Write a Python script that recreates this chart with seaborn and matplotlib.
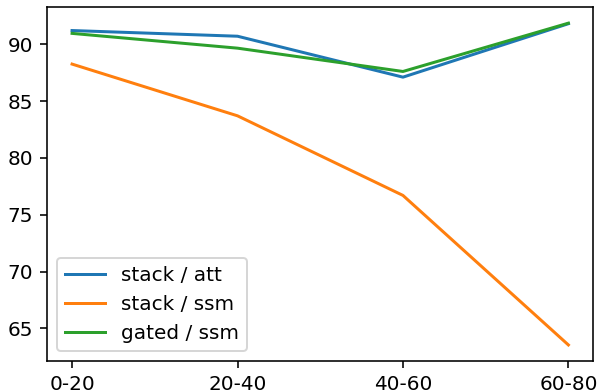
import matplotlib
matplotlib.use("Agg")
import matplotlib.pyplot as plt
import pandas as pd
import seaborn as sns

# length buckets and accuracy per model variant
buckets = ["0-20", "20-40", "40-60", "60-80"]
stack_att = [91.2, 90.7, 87.1, 91.8]
stack_ssm = [88.25, 83.7, 76.7, 63.55]
gated_ssm = [90.95, 89.65, 87.6, 91.85]
labels = ["stack / att", "stack / ssm", "gated / ssm"]

df = pd.DataFrame({
    "bucket": buckets * 3,
    "acc": stack_att + stack_ssm + gated_ssm,
    "model": [labels[0]] * 4 + [labels[1]] * 4 + [labels[2]] * 4,
})

dpi = 144
fig, ax = plt.subplots(figsize=(598 / dpi, 392 / dpi), dpi=dpi)
sns.lineplot(data=df, x="bucket", y="acc", hue="model", palette=["#1f77b4", "#ff7f0e", "#2ca02c"],
             linewidth=1.5, ax=ax, sort=False)
ax.set_xlabel("")
ax.set_ylabel("")
ax.legend(loc="lower left", title=None)
plt.subplots_adjust(left=0.079, right=0.992, top=0.982, bottom=0.079)
plt.savefig("out.png", dpi=dpi)
